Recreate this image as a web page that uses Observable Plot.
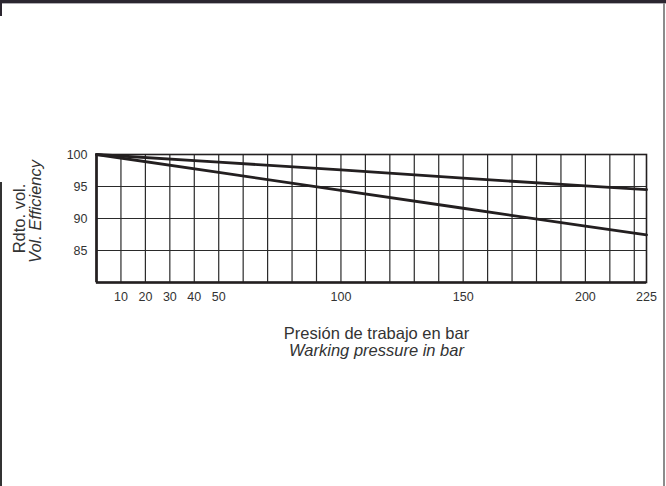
<!DOCTYPE html>
<html>
<head>
<meta charset="utf-8">
<script src="https://cdn.jsdelivr.net/npm/d3@7"></script>
<script src="https://cdn.jsdelivr.net/npm/@observablehq/plot@0.6"></script>
<style>
  html, body { margin: 0; padding: 0; background: #fff; }
  #wrap { position: relative; width: 666px; height: 486px; overflow: hidden; }
  .deco { position: absolute; }
</style>
</head>
<body>
<div id="wrap">
  <div class="deco" style="left:0;top:0;width:666px;height:3px;background:#2b2630"></div>
  <div class="deco" style="left:0;top:3px;width:666px;height:1px;background:#b0aeb4"></div>
  <div class="deco" style="left:0;top:0;width:2px;height:16px;background:#2b2630"></div>
  <div class="deco" style="left:0;top:182px;width:2px;height:304px;background:#333"></div>
  <div class="deco" style="left:663px;top:3px;width:2px;height:483px;background:#8c8c8c"></div>
</div>
<script>
// Data
const pressure = [0, 50, 100, 150, 200, 225];          // bar
const upperEfficiency = [100, 98.8, 97.6, 96.3, 95.1, 94.5];
const lowerEfficiency = [100, 97.2, 94.4, 91.6, 88.8, 87.45];
const xTickLabels = [10, 20, 30, 40, 50, 100, 150, 200, 225];
const yTickLabels = [85, 90, 95, 100];
const xGridValues = d3.range(0, 230, 10);
const yGridValues = [85, 90, 95];

const upper = pressure.map((p, i) => ({p, v: upperEfficiency[i]}));
const lower = pressure.map((p, i) => ({p, v: lowerEfficiency[i]}));

const ink = "#231f20";
const font = "'Liberation Sans', Arial, Helvetica, sans-serif";

const chart = Plot.plot({
  width: 666,
  height: 486,
  marginLeft: 96,
  marginRight: 20,
  marginTop: 154,
  marginBottom: 204,
  style: {fontFamily: font, fontSize: "12.5px", color: ink, background: "transparent"},
  x: {domain: [0, 225]},
  y: {domain: [80, 100]},
  marks: [
    Plot.gridX(xGridValues, {stroke: "#2a2a2a", strokeOpacity: 1, strokeWidth: 1.2}),
    Plot.gridY(yGridValues, {stroke: "#2a2a2a", strokeOpacity: 1, strokeWidth: 1.2}),
    Plot.frame({stroke: ink, strokeWidth: 1.6}),
    Plot.ruleX([0], {stroke: ink, strokeWidth: 2.6}),
    Plot.ruleY([80], {stroke: ink, strokeWidth: 2.6}),
    Plot.line(upper, {x: "p", y: "v", stroke: ink, strokeWidth: 2.8}),
    Plot.line(lower, {x: "p", y: "v", stroke: ink, strokeWidth: 2.8}),
    Plot.axisX(xTickLabels, {tickSize: 0, tickPadding: 10, fontSize: 12.5, fill: "#333", label: null}),
    Plot.axisY(yTickLabels, {tickSize: 0, tickPadding: 9, fontSize: 12.5, fill: "#333", label: null}),
    Plot.text(["Presión de trabajo en bar"], {frameAnchor: "bottom", lineAnchor: "bottom", dx: 5, dy: 56.5, fontSize: 16.5, fill: "#333"}),
    Plot.text(["Warking pressure in bar"], {frameAnchor: "bottom", lineAnchor: "bottom", dx: 5, dy: 73.5, fontSize: 16.5, fontStyle: "italic", fill: "#333"}),
    Plot.text(["Rdto. vol."], {frameAnchor: "left", lineAnchor: "middle", textAnchor: "middle", rotate: -90, dx: -77, dy: 0, fontSize: 16.5, fill: "#333"}),
    Plot.text(["Vol. Efficiency"], {frameAnchor: "left", lineAnchor: "middle", textAnchor: "middle", rotate: -90, dx: -61, dy: -7, fontSize: 16.5, fontStyle: "italic", fill: "#333"})
  ]
});
chart.style.position = "absolute";
chart.style.left = "0";
chart.style.top = "0";
document.getElementById("wrap").appendChild(chart);
</script>
</body>
</html>
